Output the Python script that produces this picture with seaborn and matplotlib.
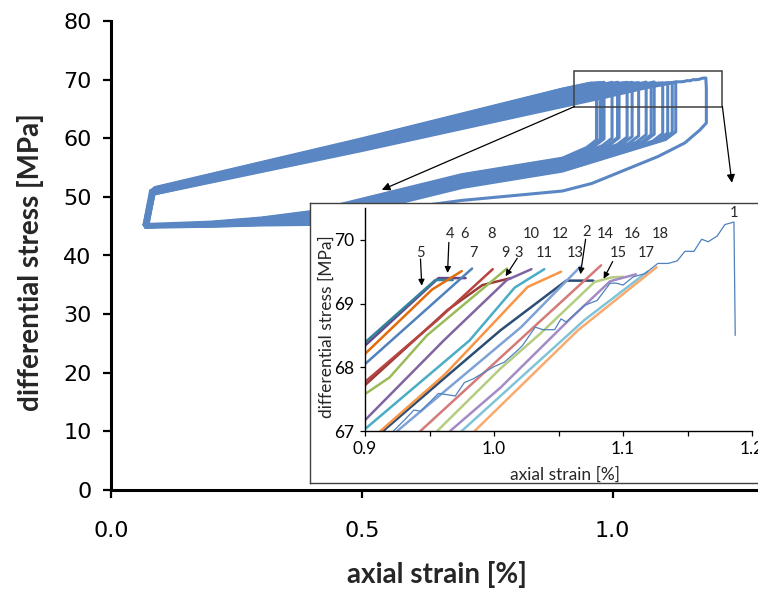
import pandas as pd
import seaborn as sns
import matplotlib.pyplot as plt
from matplotlib.patches import Rectangle
from matplotlib.ticker import FormatStrFormatter, MultipleLocator

sns.set_style('ticks')
plt.rcParams['font.family'] = ['Lato', 'DejaVu Sans']

# inset: loading branch of each cycle near the peak (axial strain %, stress MPa)
c1_x = [0.922, 0.930, 0.938, 0.943, 0.957, 0.970, 0.977, 0.984, 1.000, 1.008, 1.018, 1.022,
        1.032, 1.038, 1.047, 1.052, 1.056, 1.070, 1.080, 1.090, 1.095, 1.100, 1.108, 1.117,
        1.127, 1.135, 1.142, 1.148, 1.155, 1.161, 1.166, 1.173, 1.179, 1.186, 1.187]
c1_y = [67.00, 67.16, 67.33, 67.31, 67.59, 67.55, 67.76, 67.82, 68.01, 68.08, 68.26, 68.34,
        68.63, 68.59, 68.59, 68.76, 68.71, 68.97, 69.05, 69.32, 69.32, 69.29, 69.42, 69.47,
        69.63, 69.63, 69.67, 69.82, 69.82, 70.01, 69.97, 70.06, 70.24, 70.28, 68.50]
c2_x = [0.914, 0.961, 1.005, 1.056, 1.077]
c2_y = [67.00, 67.82, 68.58, 69.36, 69.36]
c3_x = [0.900, 0.964, 0.991, 1.013]
c3_y = [67.72, 68.90, 69.29, 69.40]
c4_x = [0.900, 0.957, 0.978]
c4_y = [68.34, 69.40, 69.40]
c5_x = [0.900, 0.9545, 0.968]
c5_y = [68.39, 69.37, 69.37]
c6_x = [0.900, 0.952, 0.975]
c6_y = [68.21, 69.22, 69.51]
c7_x = [0.900, 0.983]
c7_y = [68.05, 69.55]
c8_x = [0.900, 0.956, 0.999]
c8_y = [67.77, 68.74, 69.54]
c9_x = [0.900, 0.919, 0.948, 1.010]
c9_y = [67.58, 67.84, 68.50, 69.55]
c10_x = [0.900, 0.961, 1.010, 1.029]
c10_y = [67.17, 68.42, 69.37, 69.54]
c11_x = [0.900, 0.981, 1.016, 1.039]
c11_y = [67.03, 68.42, 69.25, 69.54]
c12_x = [0.912, 0.962, 1.026, 1.052]
c12_y = [67.00, 67.89, 69.26, 69.50]
c13_x = [0.925, 1.021, 1.067]
c13_y = [67.00, 68.63, 69.58]
c14_x = [0.943, 1.083]
c14_y = [67.00, 69.60]
c15_x = [0.956, 1.005, 1.036, 1.078, 1.091, 1.100]
c15_y = [67.00, 67.98, 68.53, 69.34, 69.41, 69.42]
c16_x = [0.966, 1.005, 1.058, 1.090, 1.110]
c16_y = [67.00, 67.68, 68.74, 69.35, 69.46]
c17_x = [0.975, 1.070, 1.119]
c17_y = [67.00, 68.74, 69.50]
c18_x = [0.985, 1.065, 1.126]
c18_y = [67.00, 68.58, 69.57]

cycles = [str(i) for i in range(1, 19)]
inset_x = [c1_x, c2_x, c3_x, c4_x, c5_x, c6_x, c7_x, c8_x, c9_x,
           c10_x, c11_x, c12_x, c13_x, c14_x, c15_x, c16_x, c17_x, c18_x]
inset_y = [c1_y, c2_y, c3_y, c4_y, c5_y, c6_y, c7_y, c8_y, c9_y,
           c10_y, c11_y, c12_y, c13_y, c14_y, c15_y, c16_y, c17_y, c18_y]
curve_colors = ['#4F81BD', '#2C4D75', '#9B3B38', '#65498A', '#31849B', '#E36C0A',
                '#4F81BD', '#B8433F', '#9BBB59', '#8064A2', '#4BACC6', '#F79646',
                '#7FA2D6', '#D47A78', '#B5CD80', '#A38BC5', '#80C4D7', '#F9AA6F']

# main plot: rest of each loop (cycles 1..18)
left_x0 = [0.068, 0.066, 0.070, 0.072, 0.074, 0.071, 0.069, 0.067, 0.073,
           0.070, 0.068, 0.066, 0.071, 0.069, 0.072, 0.067, 0.070, 0.068]
left_y0 = [45.0, 45.2, 44.9, 45.1, 45.3, 45.0, 44.8, 45.1, 45.2,
           44.9, 45.0, 45.3, 45.1, 44.9, 45.0, 45.2, 44.8, 45.1]
corner_x = [0.082, 0.080, 0.084, 0.086, 0.088, 0.085, 0.083, 0.081, 0.087,
            0.084, 0.082, 0.079, 0.085, 0.083, 0.086, 0.080, 0.084, 0.081]
corner_y = [50.9, 51.0, 51.3, 51.5, 51.6, 51.4, 51.2, 51.1, 51.3,
            51.0, 50.8, 51.1, 50.7, 50.9, 50.5, 50.8, 50.6, 50.4]
upper_at = 0.5
upper_mid = [58.6, 58.9, 59.4, 59.8, 59.9, 59.7, 59.6, 59.4, 59.3,
             59.0, 58.9, 58.8, 58.6, 58.4, 58.3, 58.2, 58.0, 57.9]

# unloading of cycles 2..18: bottom of the vertical drop, bend, then values at lower_at
drop_y = [60.6, 60.1, 59.8, 59.7, 59.8, 59.9, 60.0, 60.1,
          60.2, 60.3, 60.4, 60.6, 60.7, 60.8, 60.9, 61.0, 61.1]
bend_x = [1.057, 0.993, 0.959, 0.948, 0.955, 0.963, 0.979, 0.990,
          1.009, 1.019, 1.032, 1.047, 1.063, 1.080, 1.090, 1.099, 1.106]
bend_y = [59.3, 58.8, 58.5, 58.4, 58.5, 58.6, 58.7, 58.8,
          58.9, 59.0, 59.1, 59.3, 59.4, 59.5, 59.6, 59.7, 59.8]
lower_at = [0.9, 0.7, 0.4, 0.3, 0.2]
lower_09 = [55.1, 56.0, 56.4, 56.6, 56.5, 56.4, 56.2, 56.0,
            55.8, 55.6, 55.4, 55.2, 55.0, 54.8, 54.6, 54.5, 54.4]
lower_07 = [52.6, 53.3, 53.6, 53.8, 53.7, 53.6, 53.4, 53.3,
            53.1, 52.9, 52.8, 52.6, 52.4, 52.2, 52.0, 51.8, 51.6]
lower_04 = [46.5, 47.0, 47.3, 47.5, 47.4, 47.3, 47.1, 47.0,
            46.8, 46.7, 46.5, 46.3, 46.1, 45.9, 45.7, 45.5, 45.3]
lower_03 = [45.8, 46.1, 46.3, 46.4, 46.3, 46.2, 46.1, 46.1,
            46.0, 45.9, 45.8, 45.7, 45.6, 45.5, 45.4, 45.3, 45.2]
lower_02 = [45.3, 45.5, 45.6, 45.7, 45.6, 45.5, 45.5, 45.4,
            45.4, 45.3, 45.3, 45.2, 45.2, 45.1, 45.1, 45.0, 45.0]
# cycle 1 unloads further out
c1_lower_x = [1.187, 1.174, 1.144, 1.091, 1.025, 0.959, 0.9, 0.7, 0.4, 0.3, 0.2]
c1_lower_y = [62.6, 61.4, 59.2, 56.9, 54.6, 52.3, 51.0, 49.4, 46.0, 45.5, 45.2]

# cycle numbers in the inset
label_x = [1.186, 1.072, 1.019, 0.966, 0.943, 0.977, 0.984, 0.998, 1.009,
           1.029, 1.039, 1.051, 1.063, 1.086, 1.096, 1.107, 1.118, 1.129]
label_y = [70.42, 70.13, 69.79, 70.09, 69.79, 70.09, 69.79, 70.09, 69.79,
           70.09, 69.79, 70.09, 69.79, 70.09, 69.79, 70.09, 69.79, 70.09]
arrow_from = [(0.943, 69.70), (0.965, 69.96), (1.018, 69.71), (1.071, 70.01), (1.092, 69.66)]
arrow_to = [(0.944, 69.28), (0.964, 69.48), (1.009, 69.43), (1.067, 69.46), (1.085, 69.39)]

# zoom box drawn on the main plot
box_x = [0.924, 1.219]
box_y = [65.4, 71.4]
box_arrow_to = [(0.540, 51.2), (1.238, 52.4)]

MAIN_BLUE = '#5A87C3'

# build tables
main_rows = []
for i, cyc in enumerate(cycles):
    xs = [left_x0[i], corner_x[i], upper_at] + inset_x[i]
    ys = [left_y0[i], corner_y[i], upper_mid[i]] + inset_y[i]
    if i == 0:
        xs = xs + c1_lower_x + [left_x0[i]]
        ys = ys + c1_lower_y + [left_y0[i]]
    else:
        j = i - 1
        xs = xs + [inset_x[i][-1], bend_x[j]] + lower_at + [left_x0[i]]
        ys = ys + [drop_y[j], bend_y[j], lower_09[j], lower_07[j], lower_04[j],
                   lower_03[j], lower_02[j], left_y0[i]]
    for x, y in zip(xs, ys):
        main_rows.append({'cycle': cyc, 'strain': x, 'stress': y})
main_df = pd.DataFrame(main_rows)

inset_rows = []
for i, cyc in enumerate(cycles):
    for x, y in zip(inset_x[i], inset_y[i]):
        inset_rows.append({'cycle': cyc, 'strain': x, 'stress': y})
inset_df = pd.DataFrame(inset_rows)

fig = plt.figure(figsize=(7.58, 5.90), dpi=100)

# main axes
ax = fig.add_axes([111 / 758, 100 / 590, 647 / 758, 469 / 590])
sns.lineplot(data=main_df, x='strain', y='stress', units='cycle', estimator=None,
             sort=False, color=MAIN_BLUE, lw=2.2, ax=ax)
ax.set_xlim(0, 1.29)
ax.set_ylim(0, 80)
ax.set_xticks([0, 0.5, 1.0])
ax.set_yticks(range(0, 81, 10))
ax.xaxis.set_major_formatter(FormatStrFormatter('%.1f'))
for s in ['top', 'right']:
    ax.spines[s].set_visible(False)
for s in ['left', 'bottom']:
    ax.spines[s].set_linewidth(2.2)
    ax.spines[s].set_color('black')
ax.tick_params(direction='out', length=6, width=1.6, colors='black', labelsize=16)
ax.tick_params(axis='x', pad=16)
ax.tick_params(axis='y', pad=8)
for t in ax.get_xticklabels() + ax.get_yticklabels():
    t.set_fontfamily('DejaVu Sans')
ax.set_xlabel('axial strain [%]', fontsize=20, fontweight='bold')
ax.set_ylabel('differential stress [MPa]', fontsize=20, fontweight='bold')
ax.xaxis.set_label_coords(0.504, -0.181)
ax.xaxis.label.set_verticalalignment('center')
ax.yaxis.set_label_coords(-0.125, 0.486)
ax.yaxis.label.set_verticalalignment('center')

ax.add_patch(Rectangle((box_x[0], box_y[0]), box_x[1] - box_x[0], box_y[1] - box_y[0],
                       fill=False, edgecolor='#404040', lw=1.1, zorder=5))
ax.annotate('', xy=box_arrow_to[0], xytext=(box_x[0], box_y[0]),
            arrowprops=dict(arrowstyle='-|>', color='black', lw=0.9, mutation_scale=12,
                            shrinkA=0, shrinkB=0), zorder=6)
ax.annotate('', xy=box_arrow_to[1], xytext=(box_x[1], box_y[0]),
            arrowprops=dict(arrowstyle='-|>', color='black', lw=0.9, mutation_scale=12,
                            shrinkA=0, shrinkB=0), zorder=6)

# white frame behind the inset
frame = fig.add_axes([310 / 758, 107 / 590, 0.62, 280 / 590], zorder=2)
frame.set_xticks([])
frame.set_yticks([])
for s in frame.spines.values():
    s.set_linewidth(1.0)
    s.set_color('#404040')

# inset axes
axin = fig.add_axes([365 / 758, 159 / 590, 387 / 758, 223 / 590], zorder=3)
palette = dict(zip(cycles, curve_colors))
sns.lineplot(data=inset_df[inset_df['cycle'] != '1'], x='strain', y='stress', hue='cycle',
             hue_order=cycles[1:], palette=palette, estimator=None, sort=False,
             lw=1.8, legend=False, ax=axin)
sns.lineplot(data=inset_df[inset_df['cycle'] == '1'], x='strain', y='stress',
             estimator=None, sort=False, color=curve_colors[0], lw=0.9, ax=axin)
axin.set_xlim(0.9, 1.2)
axin.set_ylim(67, 70.5)
axin.set_xticks([0.9, 1.0, 1.1, 1.2])
axin.xaxis.set_minor_locator(MultipleLocator(0.05))
axin.set_yticks([67, 68, 69, 70])
axin.xaxis.set_major_formatter(FormatStrFormatter('%.1f'))
for s in ['top', 'right']:
    axin.spines[s].set_visible(False)
for s in ['left', 'bottom']:
    axin.spines[s].set_linewidth(1.0)
    axin.spines[s].set_color('black')
axin.tick_params(which='both', direction='out', length=3.5, width=0.9, colors='black',
                 labelsize=12.5, pad=4)
axin.set_xlabel('axial strain [%]', fontsize=12.5)
axin.set_ylabel('differential stress [MPa]', fontsize=12.5)
axin.xaxis.set_label_coords(0.517, -0.197)
axin.xaxis.label.set_verticalalignment('center')
axin.yaxis.set_label_coords(-0.098, 0.466)
axin.yaxis.label.set_verticalalignment('center')

for txt, x, y in zip(cycles, label_x, label_y):
    axin.text(x, y, txt, fontsize=10.5, ha='center', va='center')
for a, b in zip(arrow_from, arrow_to):
    axin.annotate('', xy=b, xytext=a,
                  arrowprops=dict(arrowstyle='-|>', color='black', lw=0.9,
                                  mutation_scale=9, shrinkA=0, shrinkB=0))

fig.savefig('out.png', dpi=100)
